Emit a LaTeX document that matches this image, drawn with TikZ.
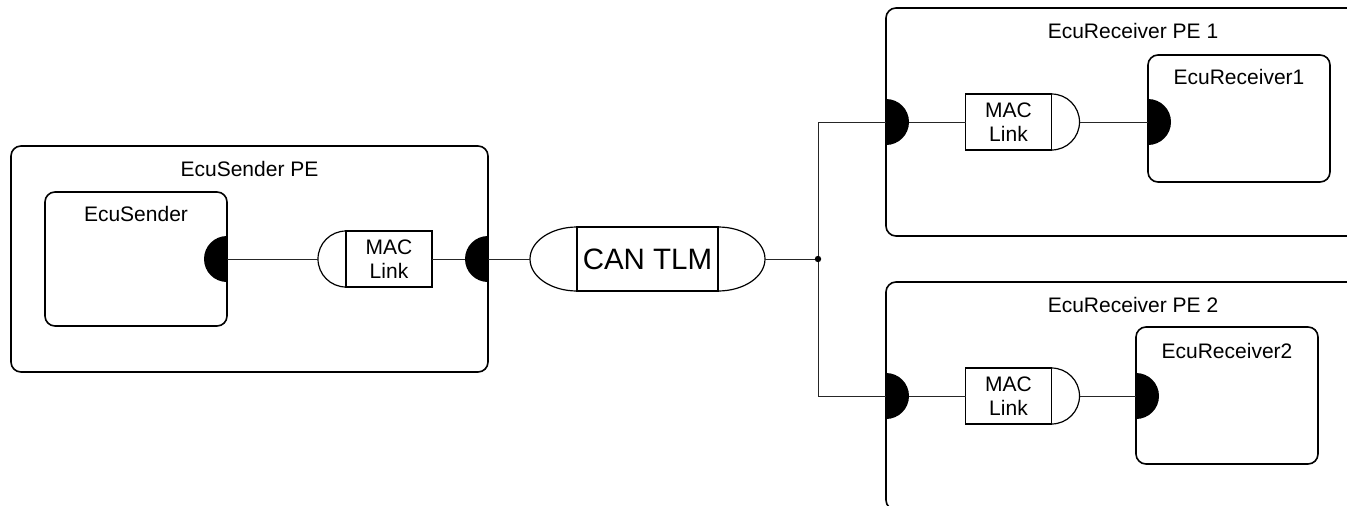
\documentclass[tikz,border=0pt]{standalone}
\usepackage{fontspec}
\setmainfont{Liberation Sans}
\begin{document}
\begin{tikzpicture}[x=1pt,y=1pt,
  frame/.style={draw, line width=1.6pt, rounded corners=10pt, inner sep=0pt, outer sep=0pt},
  linkbox/.style={draw, line width=1.2pt, inner sep=0pt, outer sep=0pt,
    minimum width=86pt, minimum height=56pt, align=center,
    font=\fontsize{21}{24}\selectfont},
  linkcap/.style={draw, line width=1.2pt},
  title/.style={anchor=base, inner sep=0pt, font=\fontsize{21}{25}\selectfont},
  wire/.style={line width=1pt, black!85},
  portfill/.style={fill=black}]
\useasboundingbox (0,0) rectangle (1347,-506);
\clip (0,0) rectangle (1347,-506);

% processing elements and components
\node[frame, minimum width=477pt, minimum height=226pt] (senderPE) at (249.5,-259) {};
\node[frame, minimum width=182pt, minimum height=134pt] (sender) at (136,-259) {};
\node[frame, minimum width=494pt, minimum height=228pt] (rx1PE) at (1133,-122) {};
\node[frame, minimum width=494pt, minimum height=228pt] (rx2PE) at (1133,-396) {};
\node[frame, minimum width=182pt, minimum height=127pt] (rx1) at (1239,-118.5) {};
\node[frame, minimum width=182pt, minimum height=137pt] (rx2) at (1227,-395.5) {};

% titles
\node[title] (senderPEt) at ([yshift=-30pt]senderPE.north) {EcuSender PE};
\node[title] (sendert) at ([yshift=-29pt]sender.north) {EcuSender};
\node[title] (rx1PEt) at ([yshift=-30pt]rx1PE.north) {EcuReceiver PE 1};
\node[title] (rx2PEt) at ([yshift=-30pt]rx2PE.north) {EcuReceiver PE 2};
\node[title] (rx1t) at ([yshift=-29pt]rx1.north) {EcuReceiver1};
\node[title] (rx2t) at ([yshift=-31pt]rx2.north) {EcuReceiver2};

% MAC links
\node[linkbox] (macS) at (389,-259) {MAC\\Link};
\node[linkbox] (mac1) at (1008.5,-122) {MAC\\Link};
\node[linkbox] (mac2) at (1008.5,-396) {MAC\\Link};
\draw[linkcap] (macS.north west) arc[start angle=90, end angle=270, radius=28];
\draw[linkcap] (mac1.south east) arc[start angle=-90, end angle=90, radius=28];
\draw[linkcap] (mac2.south east) arc[start angle=-90, end angle=90, radius=28];
\coordinate (macSin) at ([xshift=-28pt]macS.west);
\coordinate (mac1out) at ([xshift=28pt]mac1.east);
\coordinate (mac2out) at ([xshift=28pt]mac2.east);

% CAN transaction level model
\node[linkbox, minimum width=141pt, minimum height=64pt,
  font=\fontsize{29.5}{34}\selectfont] (can) at (647.5,-259) {CAN TLM};
\draw[linkcap] (can.north west) arc[start angle=90, end angle=270, x radius=47, y radius=32];
\draw[linkcap] (can.south east) arc[start angle=-90, end angle=90, x radius=47, y radius=32];
\coordinate (canL) at ([xshift=-47pt]can.west);
\coordinate (canR) at ([xshift=47pt]can.east);

% bus junction and receiver ports
\coordinate (junc) at (818,-259);
\coordinate (rx1in) at (rx1.west |- mac1.east);
\coordinate (rx2in) at (rx2.west |- mac2.east);

% wires
\draw[wire] (sender.east) -- (macSin);
\draw[wire] (macS.east) -- (senderPE.east);
\draw[wire] (senderPE.east) -- (canL);
\draw[wire] (canR) -- (junc);
\draw[wire] (junc) |- (rx1PE.west);
\draw[wire] (junc) |- (rx2PE.west);
\draw[wire] (rx1PE.west) -- (mac1.west);
\draw[wire] (rx2PE.west) -- (mac2.west);
\draw[wire] (mac1out) -- (rx1in);
\draw[wire] (mac2out) -- (rx2in);
\fill (junc) circle[radius=3.2];

% ports: half discs on the inner side of the borders
\foreach \p in {sender.east, senderPE.east}
  \fill[portfill] (\p) ++(0,23) arc[start angle=90, end angle=270, radius=23] -- cycle;
\foreach \p in {rx1PE.west, rx2PE.west, rx1in, rx2in}
  \fill[portfill] (\p) ++(0,-23) arc[start angle=-90, end angle=90, radius=23] -- cycle;
\end{tikzpicture}
\end{document}
